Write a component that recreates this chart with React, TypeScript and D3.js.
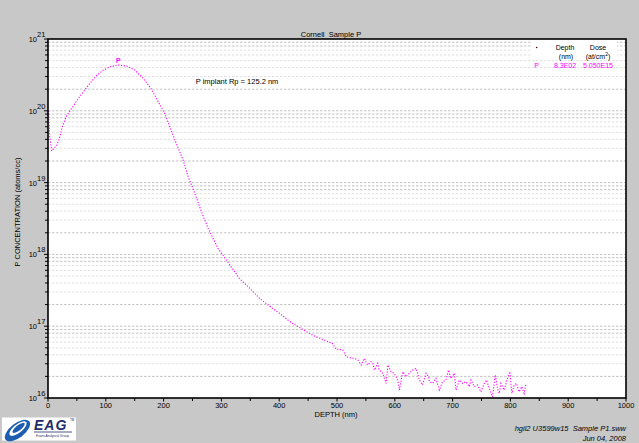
import React from 'react';
import * as d3 from 'd3';

const depthNm: number[] = [
  1, 2, 3, 4, 6.4, 15, 19.6, 24.7, 32.2, 39.2, 49.5, 61, 72.5, 84, 95.6, 107, 121.5, 136, 150, 164.7,
  179, 190.6, 202, 210.7, 222, 233.7, 242.4, 253.9, 265.4, 277, 294, 317, 331.6, 349, 366, 383, 400.7,
  421, 438, 458, 478,
  487, 491.6, 495.7, 498.6, 504, 510, 513, 516, 521.6, 530, 536, 541.8, 547.5, 550, 553, 559, 562,
  564.8, 570.5, 573, 579, 585, 588, 593.6, 599, 605, 608, 613.6, 619.5, 625, 631, 637, 642.5, 648,
  654, 658.5, 660, 665.5, 671, 677, 682.7, 688.6, 693, 697, 703, 706, 711.6, 717, 723, 729, 731.8,
  737.5, 743, 749, 754.7, 758.7, 763.4, 769, 773.7, 777.7, 780.7, 783.6, 789, 795, 799, 802.6, 806.6,
  810.5, 815, 819.7, 823.7, 826.6,
];
const pConc: number[] = [
  1.0e20, 6.1e19, 4.4e19, 3.8e19, 2.75e19, 3.3e19, 4.1e19, 6.0e19, 8.5e19, 1.03e20, 1.37e20, 1.83e20,
  2.42e20, 3.08e20, 3.7e20, 4.1e20, 4.35e20, 4.2e20, 3.7e20, 2.83e20, 2.0e20, 1.34e20, 9.2e19, 6.0e19,
  3.5e19, 2.07e19, 1.21e19, 7.1e18, 3.94e18, 2.31e18, 1.22e18, 6.7e17, 4.6e17, 3.37e17, 2.45e17,
  1.91e17, 1.51e17, 1.12e17, 9.3e16, 7.5e16, 6.4e16,
  5.97e16, 5.78e16, 5.18e16, 4.77e16, 4.77e16, 4.66e16, 4.2e16, 3.76e16, 3.64e16, 3.57e16, 3.38e16,
  2.88e16, 3.57e16, 3.2e16, 2.88e16, 3.2e16, 3.04e16, 2.45e16, 3.04e16, 2.45e16, 2.21e16, 1.6e16,
  2.88e16, 2.32e16, 2.21e16, 1.78e16, 1.29e16, 2.32e16, 1.98e16, 2.21e16, 2.45e16, 2.59e16, 1.78e16,
  1.52e16, 2.21e16, 1.98e16, 1.69e16, 1.6e16, 1.88e16, 1.29e16, 1.69e16, 1.78e16, 2.45e16, 1.88e16,
  2.21e16, 1.29e16, 1.78e16, 1.6e16, 1.69e16, 1.44e16, 1.78e16, 1.44e16, 1.52e16, 1.22e16, 1.6e16,
  1.78e16, 1.36e16, 1.04e16, 2.09e16, 1.36e16, 1.16e16, 1.6e16, 1.29e16, 1.88e16, 2.32e16, 1.16e16,
  1.52e16, 1.6e16, 1.22e16, 1.44e16, 1.16e16, 1.52e16,
];

const xMajorTicks = [0, 100, 200, 300, 400, 500, 600, 700, 800, 900, 1000];
const xMinorTicks = [50, 150, 250, 350, 450, 550, 650, 750, 850, 950];
const decadeExponents = [16, 17, 18, 19, 20, 21];
const minorMultipliers = [2, 3, 4, 5, 6, 7, 8, 9];

const titleText = 'Cornell  Sample P';
const xLabel = 'DEPTH (nm)';
const yLabel = 'P CONCENTRATION (atoms/cc)';
const annotation = 'P implant Rp = 125.2 nm';
const seriesName = 'P';
const legendDepth = '8.3E02';
const legendDose = '5.050E15';
const footer1 = 'hgil2 U3599w15  Sample P1.sww';
const footer2 = 'Jun 04, 2008';

const FONT = '"Liberation Sans", Arial, sans-serif';
const keepSpaces = (s: string) => s.replace(/ {2}/g, ' \u00a0');

export default function App() {
  const W = 639;
  const H = 443;
  const left = 48, right = 626, top = 39, bottom = 398;
  const x = d3.scaleLinear().domain([0, 1000]).range([left, right]);
  const y = d3.scaleLog().domain([1e16, 1e21]).range([bottom, top]);

  const minorVals: number[] = [];
  for (let e = 16; e < 21; e++) for (const m of minorMultipliers) minorVals.push(m * Math.pow(10, e));
  const majorVals = decadeExponents.map((e) => Math.pow(10, e));

  const pts = depthNm.map((d, i) => [d, pConc[i]] as [number, number]);
  const line = d3
    .line<[number, number]>()
    .x((d) => x(d[0]))
    .y((d) => y(d[1]));

  let peakIdx = 0;
  pConc.forEach((c, i) => {
    if (c > pConc[peakIdx]) peakIdx = i;
  });

  const gridColor = (v: number) => {
    const m = Math.round(v / Math.pow(10, Math.floor(Math.log10(v) + 1e-9)));
    return m === 1 || m === 2 || m === 8 || m === 9 ? '#c4c4c4' : '#e2e2e2';
  };

  return (
    <svg
      width={W}
      height={H}
      style={{ position: 'absolute', left: 0, top: 0, fontFamily: FONT }}
      viewBox={`0 0 ${W} ${H}`}
    >
      <rect x={0} y={0} width={W} height={H} fill="#c8c8c8" />
      <rect x={left} y={top} width={right - left} height={bottom - top} fill="#fff" />

      {/* gridlines */}
      {[...minorVals, ...majorVals.slice(1, -1)].map((v, i) => (
        <line
          key={'g' + i}
          x1={left}
          x2={right}
          y1={y(v)}
          y2={y(v)}
          stroke={gridColor(v)}
          strokeWidth={1}
          strokeDasharray="2.5,1.5"
        />
      ))}

      {/* legend box */}
      <rect x={532} y={41} width={85} height={17} fill="#fff" />
      <circle cx={536.7} cy={47.5} r={0.8} fill="#600" />
      <g fontSize={7} fill="#000" textAnchor="middle">
        <text x={565} y={49.5}>Depth</text>
        <text x={598} y={49.5}>Dose</text>
        <text x={566} y={59}>(nm)</text>
        <text x={598} y={59}>
          (at/cm<tspan dy={-3} fontSize={5}>2</tspan>
          <tspan dy={3}>)</tspan>
        </text>
      </g>
      <g fontSize={7} fill="#ff00ff" textAnchor="middle">
        <text x={536.5} y={67.5}>{seriesName}</text>
        <text x={565} y={67.5}>{legendDepth}</text>
        <text x={598} y={67.5}>{legendDose}</text>
      </g>

      {/* data */}
      <path
        d={line(pts) || ''}
        fill="none"
        stroke="#ff00ff"
        strokeWidth={1.1}
        strokeDasharray="1.2,1.6"
      />
      <text
        x={x(depthNm[peakIdx])}
        y={y(pConc[peakIdx]) - 2}
        fontSize={7}
        fontWeight="bold"
        fill="#ff00ff"
        textAnchor="middle"
      >
        {seriesName}
      </text>

      <text x={237} y={84} fontSize={7.5} textAnchor="middle" fill="#000">
        {annotation}
      </text>

      {/* frame */}
      <rect x={left} y={top} width={right - left} height={bottom - top} fill="none" stroke="#000" strokeWidth={1.6} />

      {/* y ticks */}
      {minorVals.map((v, i) => (
        <line key={'ym' + i} x1={left - 3} x2={left} y1={y(v)} y2={y(v)} stroke="#000" strokeWidth={1} />
      ))}
      {majorVals.map((v, i) => (
        <line key={'yM' + i} x1={left - 4} x2={left} y1={y(v)} y2={y(v)} stroke="#000" strokeWidth={1} />
      ))}
      {decadeExponents.map((e) => (
        <text key={'yl' + e} x={37} y={y(Math.pow(10, e)) + 3} fontSize={7.5} fill="#000" textAnchor="end">
          10
          <tspan x={37} dy={-5} textAnchor="start" fontSize={7.5}>
            {e}
          </tspan>
        </text>
      ))}

      {/* x ticks */}
      {xMajorTicks.map((t) => (
        <line key={'xM' + t} x1={x(t)} x2={x(t)} y1={bottom} y2={bottom + 3.5} stroke="#000" strokeWidth={1} />
      ))}
      {xMinorTicks.map((t) => (
        <line key={'xm' + t} x1={x(t)} x2={x(t)} y1={bottom} y2={bottom + 3} stroke="#000" strokeWidth={1} />
      ))}
      {xMajorTicks.map((t) => (
        <text key={'xl' + t} x={x(t)} y={408} fontSize={7.5} fill="#000" textAnchor="middle">
          {t}
        </text>
      ))}

      {/* titles */}
      <text x={331} y={36.5} fontSize={7.5} textAnchor="middle" fill="#000">
        {keepSpaces(titleText)}
      </text>
      <text x={336} y={417} fontSize={7.5} textAnchor="middle" fill="#000">
        {xLabel}
      </text>
      <text transform="translate(20,212) rotate(-90)" fontSize={7.5} textAnchor="middle" fill="#000">
        {yLabel}
      </text>

      {/* footer */}
      <text x={626} y={431} fontSize={7.5} fontStyle="italic" textAnchor="end" fill="#000">
        {keepSpaces(footer1)}
      </text>
      <text x={626} y={441} fontSize={7.5} fontStyle="italic" textAnchor="end" fill="#000">
        {footer2}
      </text>

      {/* EAG logo */}
      <rect x={2} y={417.5} width={74} height={23} fill="#fff" />
      <g transform="translate(17.5,430.5) rotate(-38)">
        <ellipse rx={15} ry={7.2} fill="#1d5db0" />
        <ellipse cx={1.5} cy={-1.2} rx={10.5} ry={4.2} fill="#fff" />
        <ellipse cx={2.5} cy={-1.4} rx={7.5} ry={2.6} fill="#1d5db0" />
      </g>
      <text x={34} y={430} fontSize={14} fontStyle="italic" fontWeight="bold" fill="#1c2e66" letterSpacing={1}>
        EAG
      </text>
      <line x1={34} x2={72} y1={432} y2={432} stroke="#1c2e66" strokeWidth={0.8} />
      <text x={36} y={436.5} fontSize={3.2} fill="#1c2e66">
        Evans Analytical Group
      </text>
      <text x={70} y={421} fontSize={3} fill="#1c2e66">
        TM
      </text>
    </svg>
  );
}
